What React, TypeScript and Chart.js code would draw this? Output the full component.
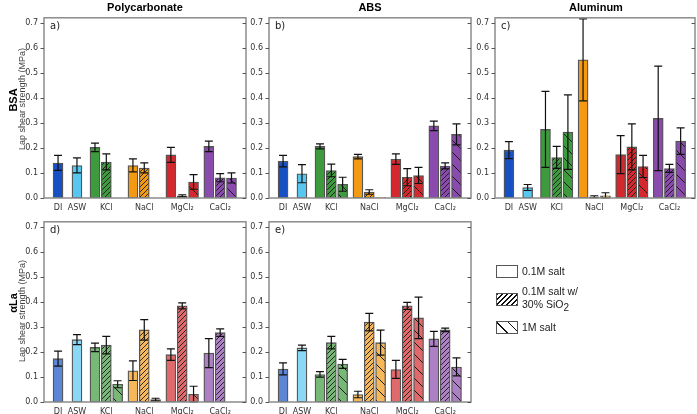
import React, { useEffect, useRef } from "react";
import { Chart, registerables } from "chart.js";
Chart.register(...registerables);

// ---------- data ----------
const categories = ["DI", "ASW", "KCl", "NaCl", "MgCl₂", "CaCl₂"];
const categorySlots = [1.24, 2.91, 5.5, 8.85, 12.2, 15.55];
// bar order: DI, ASW, KCl(0.1M, SiO2, 1M), NaCl(...), MgCl2(...), CaCl2(...)
const barSlots = [1.24, 2.91, 4.5, 5.5, 6.5, 7.85, 8.85, 9.85, 11.2, 12.2, 13.2, 14.55, 15.55, 16.55];
const barCategory = [0, 1, 2, 2, 2, 3, 3, 3, 4, 4, 4, 5, 5, 5];
const barCondition = [0, 0, 0, 1, 2, 0, 1, 2, 0, 1, 2, 0, 1, 2];
const yTicks = [0, 0.1, 0.2, 0.3, 0.4, 0.5, 0.6, 0.7];
const xMax = 17.83;
const yMax = 0.72;

const pcBsaMean = [0.14, 0.13, 0.202, 0.144, 0, 0.13, 0.12, 0, 0.172, 0.009, 0.064, 0.206, 0.081, 0.08];
const pcBsaErr = [0.03, 0.03, 0.017, 0.032, 0, 0.026, 0.02, 0, 0.03, 0.004, 0.029, 0.021, 0.016, 0.02];
const absBsaMean = [0.147, 0.097, 0.206, 0.11, 0.055, 0.165, 0.024, 0.002, 0.155, 0.083, 0.09, 0.288, 0.128, 0.254];
const absBsaErr = [0.023, 0.036, 0.01, 0.025, 0.028, 0.009, 0.009, 0, 0.021, 0.034, 0.032, 0.019, 0.012, 0.042];
const alBsaMean = [0.191, 0.042, 0.274, 0.162, 0.263, 0.552, 0.005, 0.009, 0.173, 0.204, 0.126, 0.318, 0.118, 0.227];
const alBsaErr = [0.034, 0.012, 0.152, 0.044, 0.149, 0.164, 0.004, 0.012, 0.076, 0.092, 0.044, 0.209, 0.016, 0.053];
const pcLaMean = [0.173, 0.249, 0.218, 0.227, 0.071, 0.125, 0.288, 0.01, 0.189, 0.384, 0.031, 0.195, 0.277, null];
const pcLaErr = [0.03, 0.02, 0.017, 0.035, 0.014, 0.039, 0.041, 0.005, 0.023, 0.012, 0.032, 0.058, 0.015, null];
const absLaMean = [0.132, 0.216, 0.11, 0.237, 0.152, 0.03, 0.319, 0.237, 0.13, 0.384, 0.336, 0.252, 0.288, 0.14];
const absLaErr = [0.024, 0.011, 0.011, 0.025, 0.018, 0.013, 0.035, 0.05, 0.036, 0.014, 0.083, 0.03, 0.007, 0.036];

const baseColors = ["#1650c2", "#58c7ef", "#3d9a3d", "#f39a12", "#d3282d", "#8a4aae"];

// ---------- helpers ----------
function lighten(hex: string, a: number) {
  const n = parseInt(hex.slice(1), 16);
  const r = (n >> 16) & 255, g = (n >> 8) & 255, b = n & 255;
  const m = (c: number) => Math.round(c * a + 255 * (1 - a));
  return `rgb(${m(r)},${m(g)},${m(b)})`;
}

function makeFill(ctx: CanvasRenderingContext2D, color: string, cond: number): any {
  if (cond === 0) return color;
  const s = cond === 1 ? 5 : 12;
  const c = document.createElement("canvas");
  c.width = s;
  c.height = s;
  const g = c.getContext("2d")!;
  g.fillStyle = color;
  g.fillRect(0, 0, s, s);
  g.strokeStyle = "#1a1a1a";
  g.lineWidth = cond === 1 ? 0.9 : 1;
  g.beginPath();
  if (cond === 1) {
    g.moveTo(0, s); g.lineTo(s, 0);
    g.moveTo(-1, 1); g.lineTo(1, -1);
    g.moveTo(s - 1, s + 1); g.lineTo(s + 1, s - 1);
  } else {
    g.moveTo(0, 0); g.lineTo(s, s);
    g.moveTo(-1, s - 1); g.lineTo(1, s + 1);
    g.moveTo(s - 1, -1); g.lineTo(s + 1, 1);
  }
  g.stroke();
  return ctx.createPattern(c, "repeat");
}

const FONT = "'DejaVu Sans', sans-serif";
const PAD_L = 34, PAD_T = 8, PAD_R = 4, PAD_B = 22;

type PanelProps = {
  left: number; top: number; width: number; height: number;
  mean: (number | null)[]; err: (number | null)[]; light: boolean;
};

function Panel({ left, top, width, height, mean, err, light }: PanelProps) {
  const ref = useRef<HTMLCanvasElement>(null);
  useEffect(() => {
    const canvas = ref.current!;
    const ctx = canvas.getContext("2d")!;
    const fills = barSlots.map((_, i) => {
      const base = baseColors[barCategory[i]];
      const col = light ? lighten(base, 0.7) : base;
      return makeFill(ctx, col, barCondition[i]);
    });
    const deco = {
      id: "deco",
      afterDatasetsDraw(chart: any) {
        const c = chart.ctx;
        const a = chart.chartArea;
        const xs = chart.scales.x, ys = chart.scales.y;
        c.save();
        // error bars
        c.strokeStyle = "#111";
        c.lineWidth = 1.2;
        mean.forEach((m, i) => {
          const e = err[i];
          if (m == null || e == null || e <= 0) return;
          const x = xs.getPixelForValue(barSlots[i]);
          const y1 = ys.getPixelForValue(m + e);
          const y0 = ys.getPixelForValue(Math.max(0, m - e));
          c.beginPath();
          c.moveTo(x, y0); c.lineTo(x, y1);
          c.moveTo(x - 4, y1); c.lineTo(x + 4, y1);
          c.moveTo(x - 4, y0); c.lineTo(x + 4, y0);
          c.stroke();
        });
        // frame
        c.strokeStyle = "#8c8c8c";
        c.lineWidth = 1.5;
        c.strokeRect(a.left, a.top, a.right - a.left, a.bottom - a.top);
        // ticks
        c.lineWidth = 1;
        c.strokeStyle = "#555";
        yTicks.forEach((v) => {
          const y = Math.round(ys.getPixelForValue(v)) + 0.5;
          c.beginPath();
          c.moveTo(a.left - 3.5, y); c.lineTo(a.left, y);
          c.moveTo(a.right, y); c.lineTo(a.right - 3.5, y);
          c.stroke();
        });
        c.restore();
      },
    };
    const chart = new Chart(ctx, {
      type: "bar",
      data: {
        datasets: [
          {
            data: barSlots.map((x, i) => ({ x, y: mean[i] })) as any,
            backgroundColor: fills,
            borderColor: "#555",
            borderWidth: 1.3,
            borderSkipped: false,
            barThickness: 10,
          },
        ],
      },
      options: {
        responsive: false,
        maintainAspectRatio: false,
        animation: false,
        layout: { padding: { top: PAD_T, right: PAD_R, left: 0, bottom: 0 } },
        plugins: { legend: { display: false }, tooltip: { enabled: false } },
        scales: {
          x: {
            type: "linear",
            min: 0,
            max: xMax,
            offset: false,
            grid: { display: false, drawTicks: false, tickLength: 0 },
            border: { display: false },
            afterBuildTicks: (s: any) => { s.ticks = categorySlots.map((v) => ({ value: v })); },
            afterFit: (s: any) => { s.height = PAD_B; },
            ticks: {
              autoSkip: false,
              maxRotation: 0,
              padding: 5,
              color: "#333",
              font: { family: FONT, size: 8 },
              callback: (_v: any, i: number) => categories[i],
            },
          },
          y: {
            min: 0,
            max: yMax,
            grid: { display: false, drawTicks: false, tickLength: 0 },
            border: { display: false },
            afterBuildTicks: (s: any) => { s.ticks = yTicks.map((v) => ({ value: v })); },
            afterFit: (s: any) => { s.width = PAD_L; },
            ticks: {
              padding: 6,
              color: "#333",
              font: { family: FONT, size: 8 },
              callback: (v: any) => Number(v).toFixed(1),
            },
          },
        },
      } as any,
      plugins: [deco],
    });
    return () => chart.destroy();
  }, []);
  const w = width + PAD_L + PAD_R;
  const h = height + PAD_T + PAD_B;
  return (
    <canvas
      ref={ref}
      width={w}
      height={h}
      style={{ position: "absolute", left: left - PAD_L, top: top - PAD_T, width: w, height: h }}
    />
  );
}

const txt = (style: React.CSSProperties, content: React.ReactNode, key?: string) => (
  <div key={key} style={{ position: "absolute", whiteSpace: "nowrap", lineHeight: 1, ...style }}>{content}</div>
);

export default function App() {
  const panels = [
    { key: "a", left: 44, top: 15, width: 202, mean: pcBsaMean, err: pcBsaErr, light: false },
    { key: "b", left: 269, top: 15, width: 202, mean: absBsaMean, err: absBsaErr, light: false },
    { key: "c", left: 495, top: 15, width: 200, mean: alBsaMean, err: alBsaErr, light: false },
    { key: "d", left: 44, top: 219, width: 202, mean: pcLaMean, err: pcLaErr, light: true },
    { key: "e", left: 269, top: 219, width: 202, mean: absLaMean, err: absLaErr, light: true },
  ];
  const titleFont = "'Liberation Sans', Arial, sans-serif";
  const rotated = (cx: number, cy: number, content: React.ReactNode, style: React.CSSProperties, key: string) => (
    <div
      key={key}
      style={{
        position: "absolute", left: cx, top: cy, whiteSpace: "nowrap", lineHeight: 1,
        transform: "translate(-50%, -50%) rotate(-90deg)", ...style,
      }}
    >
      {content}
    </div>
  );
  const legendFont: React.CSSProperties = { fontFamily: titleFont, fontSize: 10.5, color: "#222" };
  const box: React.CSSProperties = { position: "absolute", left: 496, width: 20, height: 11, border: "1px solid #555" };
  return (
    <div style={{ position: "fixed", left: 0, top: 0, width: 697, height: 414, overflow: "hidden", background: "#fff" }}>
      {panels.map((p) => (
        <Panel key={p.key} left={p.left} top={p.top} width={p.width} height={183} mean={p.mean} err={p.err} light={p.light} />
      ))}
      {panels.map((p) =>
        txt({ left: p.left + 6, top: p.top + 6, fontFamily: FONT, fontSize: 10, color: "#222" }, `${p.key})`, "l" + p.key)
      )}
      {txt({ left: 145, top: 7, transform: "translate(-50%,-50%)", fontFamily: titleFont, fontWeight: "bold", fontSize: 11 }, "Polycarbonate", "t1")}
      {txt({ left: 370, top: 7, transform: "translate(-50%,-50%)", fontFamily: titleFont, fontWeight: "bold", fontSize: 11 }, "ABS", "t2")}
      {txt({ left: 596, top: 7, transform: "translate(-50%,-50%)", fontFamily: titleFont, fontWeight: "bold", fontSize: 11 }, "Aluminum", "t3")}
      {rotated(13, 100, "BSA", { fontFamily: titleFont, fontWeight: "bold", fontSize: 11 }, "r1")}
      {rotated(13, 303, "αLa", { fontFamily: titleFont, fontWeight: "bold", fontSize: 11 }, "r2")}
      {rotated(22, 99, "Lap shear strength (MPa)", { fontFamily: titleFont, fontSize: 9, color: "#444" }, "y1")}
      {rotated(22, 311, "Lap shear strength (MPa)", { fontFamily: titleFont, fontSize: 9, color: "#444" }, "y2")}
      {/* legend */}
      <div style={{ ...box, top: 265, background: "#fff" }} />
      {txt({ left: 522, top: 266, ...legendFont }, "0.1M salt", "g1")}
      <div style={{ ...box, top: 293, background: "repeating-linear-gradient(135deg, #111 0 1px, #fff 1px 3.5px)" }} />
      {txt({ left: 522, top: 286, ...legendFont }, "0.1M salt w/", "g2")}
      {txt({ left: 522, top: 299, ...legendFont }, <span>30% SiO<sub style={{ fontSize: 10, verticalAlign: "-3px" }}>2</sub></span>, "g3")}
      <div style={{ ...box, top: 321, background: "repeating-linear-gradient(45deg, #fff 0 7px, #111 7px 8px)" }} />
      {txt({ left: 522, top: 322, ...legendFont }, "1M salt", "g4")}
    </div>
  );
}
